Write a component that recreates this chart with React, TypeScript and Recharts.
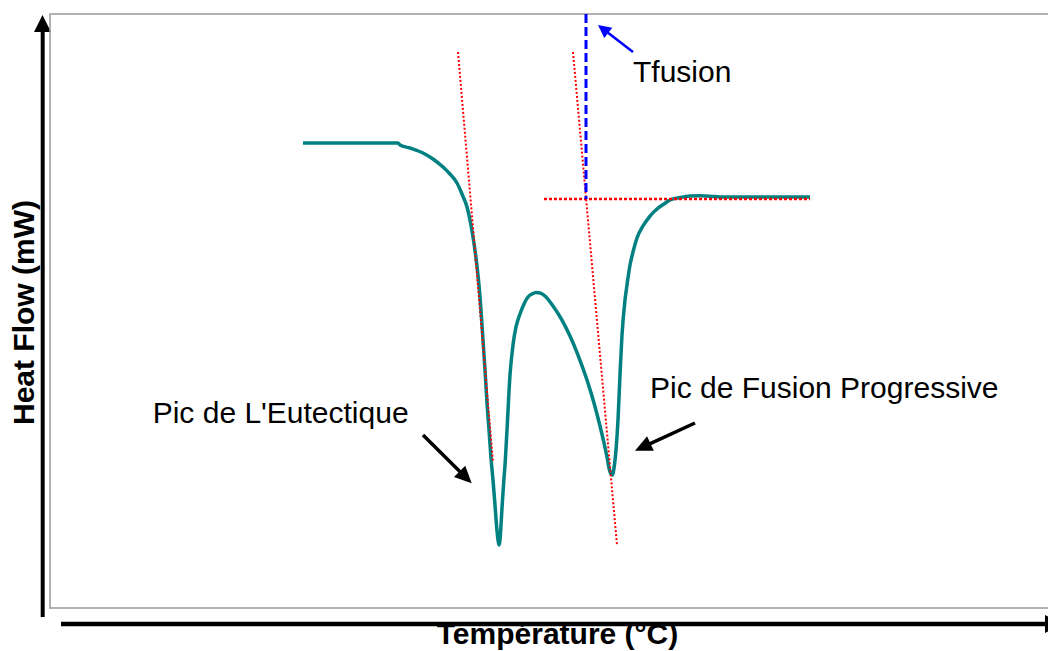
import { LineChart, Line, XAxis, YAxis, ReferenceLine, ReferenceArea, ReferenceDot } from 'recharts';

// DSC curve (arbitrary units, no scale shown)
const temperature = [
  25.3, 34.8, 35.0, 36.0, 37.3, 38.3, 39.3, 40.0, 40.7, 41.2, 41.7, 42.0, 42.3, 42.6, 42.8, 43.0,
  43.3, 43.5, 43.7, 43.9, 44.1, 44.3, 44.5, 44.65, 44.8, 44.9, 45.0, 45.1, 45.25, 45.4, 45.5, 45.7,
  46.0, 46.3, 46.6, 47.0, 47.4, 47.8, 48.2, 48.6, 49.0, 49.5, 50.3, 51.2, 52.0, 52.8, 53.7, 54.4,
  55.0, 55.4, 55.7, 55.9, 56.1, 56.25, 56.4, 56.6, 56.8, 57.0, 57.2, 57.5, 57.7, 58.0, 58.3, 58.7,
  59.3, 60.0, 60.7, 61.4, 62.0, 63.0, 64.0, 65.0, 66.0, 67.0, 71.0, 76.0,
];
const heatFlow = [
  78.28, 78.28, 77.95, 77.44, 76.6, 75.59, 74.24, 73.06, 71.55, 69.7, 67.51, 65.32, 62.46, 58.92, 56.06, 52.36,
  45.12, 40.07, 34.51, 29.97, 25.25, 21.55, 17.34, 13.97, 11.45, 10.61, 11.45, 13.97, 18.18, 21.89, 24.07, 29.97,
  39.23, 44.28, 47.31, 49.49, 51.18, 52.36, 52.86, 53.11, 53.03, 52.53, 50.84, 48.48, 45.79, 42.59, 38.38, 34.51,
  30.64, 27.78, 25.42, 23.57, 22.56, 22.39, 23.57, 26.6, 31.65, 39.23, 45.96, 51.85, 54.38, 57.74, 59.93, 62.29,
  64.31, 65.99, 67.17, 68.01, 68.69, 69.11, 69.36, 69.39, 69.33, 69.19, 69.19, 69.19,
];

// construction lines: [[t1, hf1], [t2, hf2]]
const tangentEutectic = [[40.8, 93.6], [44.3, 24.58]];
const tangentFusion = [[52.3, 93.6], [56.7, 10.61]];
const baseline = [[49.4, 68.86], [76.0, 68.86]];
const tFusionLine = [[53.6, 100], [53.6, 68.86]];

// annotation arrows (from -> tip) and labels
const arrowTfusion = [[58.3, 93.6], [54.8, 98.15]];
const arrowEutectic = [[37.3, 29.12], [42.17, 20.99]];
const arrowFusion = [[64.5, 31.14], [58.5, 26.48]];
const labels = [
  { text: 'Tfusion', t: 58.3, hf: 88.55 },
  { text: "Pic de L'Eutectique", t: 10.27, hf: 31.2 },
  { text: 'Pic de Fusion Progressive', t: 60.0, hf: 35.35 },
];

const data = temperature.map((t, i) => ({ t, hf: heatFlow[i] }));

const FONT = '"Liberation Sans", Arial, sans-serif';

const seg = (s: number[][]) => [
  { x: s[0][0], y: s[0][1] },
  { x: s[1][0], y: s[1][1] },
];

function arrowShape(color: string, width: number, head: number, half: number) {
  return (p: any) => {
    const { x1, y1, x2, y2 } = p;
    const dx = x2 - x1;
    const dy = y2 - y1;
    const len = Math.sqrt(dx * dx + dy * dy) || 1;
    const ux = dx / len;
    const uy = dy / len;
    const bx = x2 - ux * head;
    const by = y2 - uy * head;
    const pts = `${x2},${y2} ${bx - uy * half},${by + ux * half} ${bx + uy * half},${by - ux * half}`;
    return (
      <g>
        <line x1={x1} y1={y1} x2={bx + ux * 2} y2={by + uy * 2} stroke={color} strokeWidth={width} />
        <polygon points={pts} fill={color} />
      </g>
    );
  };
}

export default function App() {
  return (
    <div style={{ position: 'absolute', left: 0, top: 0 }}>
      <LineChart
        width={1048}
        height={651}
        data={data}
        margin={{ top: 14, right: -2, bottom: 43, left: 50 }}
      >
        <XAxis dataKey="t" type="number" domain={[0, 100]} hide />
        <YAxis type="number" domain={[0, 100]} hide />
        <ReferenceArea x1={0} x2={100} y1={0} y2={100} fill="none" fillOpacity={0} stroke="#999999" strokeWidth={1.5} />
        <Line
          type="monotone"
          dataKey="hf"
          stroke="#008080"
          strokeWidth={3.5}
          dot={false}
          isAnimationActive={false}
        />
        <ReferenceLine segment={seg(tangentEutectic)} stroke="#ff0000" strokeWidth={2} strokeDasharray="2 2" />
        <ReferenceLine segment={seg(tangentFusion)} stroke="#ff0000" strokeWidth={2} strokeDasharray="2 2" />
        <ReferenceLine segment={seg(baseline)} stroke="#ff0000" strokeWidth={2.5} strokeDasharray="3 2" />
        <ReferenceLine segment={seg(tFusionLine)} stroke="#0000ff" strokeWidth={3} strokeDasharray="9 4" />
        <ReferenceLine segment={seg(arrowTfusion)} shape={arrowShape('#0000ff', 2.5, 13, 6.5)} />
        <ReferenceLine segment={seg(arrowEutectic)} shape={arrowShape('#000000', 3.5, 17, 8)} />
        <ReferenceLine segment={seg(arrowFusion)} shape={arrowShape('#000000', 3.5, 17, 8)} />
        {labels.map((l) => (
          <ReferenceDot
            key={l.text}
            x={l.t}
            y={l.hf}
            r={0}
            shape={(p: any) => (
              <text x={p.cx} y={p.cy} fontFamily={FONT} fontSize={30} fill="#000000">
                {l.text}
              </text>
            )}
          />
        ))}

        {/* axis titles and arrows */}
        <text
          transform="translate(33.5,312.5) rotate(-90)"
          textAnchor="middle"
          fontFamily={FONT}
          fontSize={30}
          fontWeight="bold"
          fill="#000000"
        >
          Heat Flow (mW)
        </text>
        <text x={557.5} y={644} textAnchor="middle" fontFamily={FONT} fontSize={30} fontWeight="bold" fill="#000000">
          Température (°C)
        </text>
        <line x1={42.7} y1={617} x2={42.7} y2={30} stroke="#000000" strokeWidth={4} />
        <polygon points="34,32 51,32 42.5,15" fill="#000000" />
        <line x1={61} y1={624} x2={1046} y2={624} stroke="#000000" strokeWidth={4.5} />
        <polygon points="1045,615 1045,633 1062,624" fill="#000000" />
      </LineChart>
    </div>
  );
}
